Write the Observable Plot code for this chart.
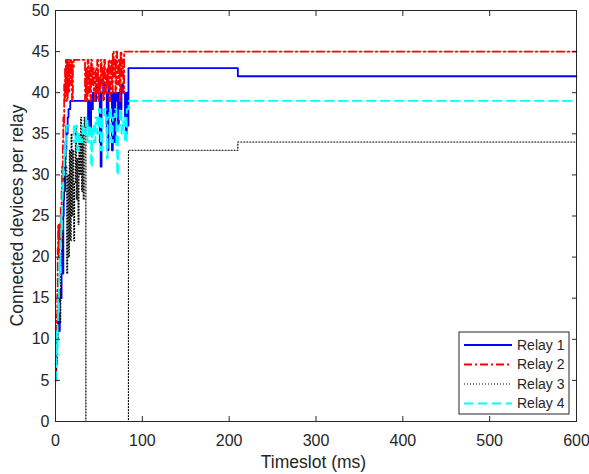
<!DOCTYPE html>
<html><head><meta charset="utf-8">
<script src="https://cdn.jsdelivr.net/npm/d3@7"></script>
<script src="https://cdn.jsdelivr.net/npm/@observablehq/plot@0.6"></script>
<style>body{margin:0;background:#fff} svg{display:block}</style>
</head><body><div id="chart"></div>
<script>
// [timeslot (ms), connected devices]
const relay1 = [[0,7],[1,9],[2,11],[3,13],[4,11],[5,16],[6,15],[7,18],[8,22],[8.5,18],[9,25],[9.5,27],[10,30],[10.5,28],[11,32],[11.5,34],[12,33],[12.5,36],[13,35],[14,37],[15,38],[17,39],[37,39],[37.5,36],[38.5,39],[40,35],[41,39],[42,38],[43,40],[45,39],[47,41],[49,40],[51,34],[52,31],[53,40],[55,41],[57,40],[59,35],[60,33],[61,41],[62,40],[64,39],[65,33],[66,40],[67,38],[68,34],[69,40],[71,39],[72,36],[73,40],[75,38],[76,41],[78,40],[80,37],[81,35],[82,40],[83,36],[84,43],[210,43],[210,42],[600,42]];
const relay2 = [[0,5],[1,8],[1.5,13],[2,16],[2.5,21],[3,24],[3.5,20],[4,23],[4.5,22],[5,24],[5.5,21],[6,26],[6.5,23],[7,28],[7.5,31],[8,30],[8.5,34],[9,37],[9.5,36],[10,41],[10.5,39],[11,43],[11.5,40],[12,44],[13,39],[14,44],[15,40],[16,44],[17,41],[18,44],[19,39],[20,43],[21,44],[33,44],[34,39],[35,43],[36,39],[37,44],[38,40],[39,43],[40,39],[41,44],[42,41],[43,43],[44,40],[45,39],[46,43],[47,40],[48,44],[49,39],[50,42],[51,40],[52,44],[53,41],[54,43],[55,39],[56,44],[57,42],[58,40],[59,43],[60,41],[61,44],[62,39],[63,42],[64,44],[65,40],[66,45],[67,42],[68,44],[69,40],[70,45],[71,43],[72,41],[73,44],[74,39],[75,45],[76,42],[77,44],[78,40],[79,45],[80,45],[600,45]];
const relay3 = [[0,5],[1,7],[2,10],[3,13],[4,16],[5,12],[6,19],[7,21],[8,24],[9,27],[10,30],[11,33],[12,31],[13,18],[14,30],[15,20],[16,33],[17,22],[18,35],[19,25],[20,33],[21,22],[22,29],[23,36],[24,27],[25,32],[26,24],[27,35],[28,30],[29,37],[30,28],[31,35],[32,27],[33,37],[34,36],[35,0],[84,0],[84,33],[210,33],[210,34],[600,34]];
const relay4 = [[0,5],[0.5,6],[1,9],[1.5,11],[2,8],[2.5,12],[3,15],[3.5,13],[4,17],[4.5,20],[5,18],[5.5,22],[6,21],[6.5,25],[7,23],[7.5,27],[8,29],[8.5,28],[9,31],[9.5,30],[10,33],[10.5,32],[11,34],[11.5,33],[12,35],[13,36],[20,36],[21,34],[23,36],[25,33],[27,35],[29,34],[31,36],[33,35],[35,37],[37,34],[38,36],[40,35],[41,31],[42,36],[44,34],[46,37],[48,35],[50,38],[52,33],[54,37],[56,38],[58,36],[59,32],[60,37],[62,38],[64,34],[66,37],[68,38],[70,33],[71,30],[72,36],[74,38],[76,35],[78,37],[80,34],[82,38],[84,39],[600,39]];

const seriesNames = ["Relay 1", "Relay 2", "Relay 3", "Relay 4"];
const xTicks = [0, 100, 200, 300, 400, 500, 600];
const yTicks = [0, 5, 10, 15, 20, 25, 30, 35, 40, 45, 50];
const xLabel = "Timeslot (ms)";
const yLabel = "Connected devices per relay";

const styles = [
  {stroke: "#0000ff", strokeWidth: 1.8, dash: null},
  {stroke: "#ff0000", strokeWidth: 1.8, dash: "8,3,2,3"},
  {stroke: "#000000", strokeWidth: 1.2, dash: "1,2"},
  {stroke: "#00ffff", strokeWidth: 1.8, dash: "9,5"}
];
const allSeries = [relay1, relay2, relay3, relay4];
const ink = "#262626";
const font = "'Liberation Sans', Arial, Helvetica, sans-serif";

const W = 589, H = 474, mL = 55, mR = 13, mT = 10, mB = 53;

const lines = allSeries.map((s, i) => Plot.line(s, {
  x: d => d[0], y: d => d[1], curve: "step-after",
  stroke: styles[i].stroke, strokeWidth: styles[i].strokeWidth,
  strokeDasharray: styles[i].dash
}));

const chart = Plot.plot({
  width: W, height: H,
  marginLeft: mL, marginRight: mR, marginTop: mT, marginBottom: mB,
  style: {fontFamily: font, fontSize: "16px", color: ink, background: "#fff", overflow: "visible"},
  x: {domain: [0, 600]},
  y: {domain: [0, 50]},
  marks: [
    ...lines,
    Plot.frame({stroke: ink, strokeWidth: 1}),
    Plot.axisX({anchor: "bottom", ticks: xTicks, tickSize: -5, tickPadding: 18, label: null, stroke: ink, fill: ink, fontSize: 16}),
    Plot.axisX({anchor: "top", ticks: xTicks, tickSize: -5, tickFormat: () => "", label: null, stroke: ink}),
    Plot.axisY({anchor: "left", ticks: yTicks, tickSize: -5, tickPadding: 11, label: null, stroke: ink, fill: ink, fontSize: 16}),
    Plot.axisY({anchor: "right", ticks: yTicks, tickSize: -5, tickFormat: () => "", label: null, stroke: ink})
  ]
});

const svg = d3.select(chart);
// axis labels
svg.append("text")
  .attr("x", mL + (W - mL - mR) / 2 - 2).attr("y", 468)
  .attr("text-anchor", "middle").attr("fill", ink)
  .style("font-family", font).style("font-size", "17.5px")
  .text(xLabel);
svg.append("text")
  .attr("transform", `translate(23,${mT + (H - mT - mB) / 2}) rotate(-90)`)
  .attr("text-anchor", "middle").attr("fill", ink)
  .style("font-family", font).style("font-size", "17.5px")
  .text(yLabel);

// legend box
const lg = svg.append("g");
const lx = 459, ly = 332, lw = 110, lh = 82, rowH = 19.5;
lg.append("rect").attr("x", lx).attr("y", ly).attr("width", lw).attr("height", lh)
  .attr("fill", "#fff").attr("stroke", ink).attr("stroke-width", 1);
seriesNames.forEach((name, i) => {
  const cy = ly + 13 + i * rowH;
  lg.append("line").attr("x1", lx + 5).attr("x2", lx + 53).attr("y1", cy).attr("y2", cy)
    .attr("stroke", styles[i].stroke).attr("stroke-width", styles[i].strokeWidth)
    .attr("stroke-dasharray", styles[i].dash);
  lg.append("text").attr("x", lx + 58).attr("y", cy).attr("dy", "0.35em")
    .attr("text-anchor", "start")
    .attr("fill", ink).style("font-family", font).style("font-size", "14px")
    .text(name);
});

document.getElementById("chart").appendChild(chart);
</script>
</body></html>
